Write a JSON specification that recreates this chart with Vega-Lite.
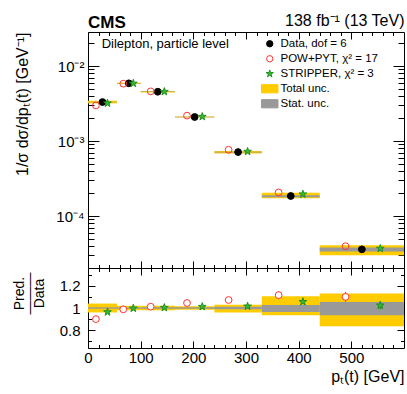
{
  "$schema": "https://vega.github.io/schema/vega-lite/v6.json",
  "background": "white",
  "padding": {"left": 11, "top": 12, "right": 3, "bottom": 0},
  "config": {
    "font": "Liberation Sans",
    "view": {"stroke": "black", "strokeWidth": 1, "fill": "white"},
    "axis": {"domain": false, "grid": false, "tickColor": "black", "tickWidth": 1, "labelColor": "black", "labelFont": "Liberation Sans", "labelFontSize": 15, "labelFlush": false, "labelOverlap": false, "titleFont": "Liberation Sans", "titleFontSize": 16, "titleFontWeight": "normal", "titleColor": "black"},
    "legend": {"labelFont": "Liberation Sans", "labelFontSize": 11.5, "labelColor": "black", "symbolSize": 40, "symbolStrokeWidth": 1, "rowPadding": 2, "labelOffset": 5, "padding": 0}
  },
  "datasets": {
    "bins": [
      {"lo": 0, "hi": 55, "data": 0.00331, "tlo": 0.00318, "thi": 0.00344, "slo": 0.00329, "shi": 0.00333, "rtlo": 0.96, "rthi": 1.04, "rslo": 0.994, "rshi": 1.006},
      {"lo": 55, "hi": 100, "data": 0.00588, "tlo": 0.00576, "thi": 0.0060, "slo": 0.005845, "shi": 0.005915, "rtlo": 0.98, "rthi": 1.02, "rslo": 0.994, "rshi": 1.006},
      {"lo": 100, "hi": 165, "data": 0.00454, "tlo": 0.00445, "thi": 0.00463, "slo": 0.004513, "shi": 0.004567, "rtlo": 0.98, "rthi": 1.02, "rslo": 0.994, "rshi": 1.006},
      {"lo": 165, "hi": 240, "data": 0.00209, "tlo": 0.002057, "thi": 0.002123, "slo": 0.002075, "shi": 0.002105, "rtlo": 0.984, "rthi": 1.016, "rslo": 0.993, "rshi": 1.007},
      {"lo": 240, "hi": 330, "data": 0.000713, "tlo": 0.000684, "thi": 0.000734, "slo": 0.000704, "shi": 0.000722, "rtlo": 0.96, "rthi": 1.03, "rslo": 0.988, "rshi": 1.012},
      {"lo": 330, "hi": 440, "data": 0.000185, "tlo": 0.000173, "thi": 0.000204, "slo": 0.000178, "shi": 0.00019, "rtlo": 0.935, "rthi": 1.105, "rslo": 0.964, "rshi": 1.027},
      {"lo": 440, "hi": 600, "data": 0.000036, "tlo": 0.00003, "thi": 0.0000407, "slo": 0.0000337, "shi": 0.000038, "rtlo": 0.835, "rthi": 1.13, "rslo": 0.935, "rshi": 1.055}
    ],
    "pts": [
      {"series": "Data, dof = 6", "x": 27.5, "y": 0.00331},
      {"series": "Data, dof = 6", "x": 77.5, "y": 0.00588},
      {"series": "Data, dof = 6", "x": 132.5, "y": 0.00454},
      {"series": "Data, dof = 6", "x": 202.5, "y": 0.00209},
      {"series": "Data, dof = 6", "x": 285, "y": 0.000713},
      {"series": "Data, dof = 6", "x": 385, "y": 0.000185},
      {"series": "Data, dof = 6", "x": 520, "y": 0.000036},
      {"series": "POW+PYT, χ² = 17", "x": 15, "y": 0.00298},
      {"series": "POW+PYT, χ² = 17", "x": 67, "y": 0.00581},
      {"series": "POW+PYT, χ² = 17", "x": 119, "y": 0.00459},
      {"series": "POW+PYT, χ² = 17", "x": 188, "y": 0.00218},
      {"series": "POW+PYT, χ² = 17", "x": 267, "y": 0.000764},
      {"series": "POW+PYT, χ² = 17", "x": 362, "y": 0.0002065},
      {"series": "POW+PYT, χ² = 17", "x": 489, "y": 0.0000396},
      {"series": "STRIPPER, χ² = 3", "x": 37, "y": 0.00319},
      {"series": "STRIPPER, χ² = 3", "x": 86, "y": 0.00586},
      {"series": "STRIPPER, χ² = 3", "x": 145, "y": 0.00455},
      {"series": "STRIPPER, χ² = 3", "x": 217, "y": 0.002115},
      {"series": "STRIPPER, χ² = 3", "x": 303, "y": 0.000724},
      {"series": "STRIPPER, χ² = 3", "x": 408, "y": 0.0001954},
      {"series": "STRIPPER, χ² = 3", "x": 555, "y": 0.0000369}
    ],
    "ratios": [
      {"model": "POW", "x": 15, "r": 0.9, "rlo": 0.894, "rhi": 0.906},
      {"model": "POW", "x": 67, "r": 0.988, "rlo": 0.982, "rhi": 0.994},
      {"model": "POW", "x": 119, "r": 1.012, "rlo": 1.006, "rhi": 1.018},
      {"model": "POW", "x": 188, "r": 1.045, "rlo": 1.039, "rhi": 1.051},
      {"model": "POW", "x": 267, "r": 1.072, "rlo": 1.064, "rhi": 1.08},
      {"model": "POW", "x": 362, "r": 1.116, "rlo": 1.08, "rhi": 1.152},
      {"model": "POW", "x": 489, "r": 1.1, "rlo": 1.055, "rhi": 1.145},
      {"model": "STRIPPER", "x": 37, "r": 0.964, "rlo": 0.959, "rhi": 0.969},
      {"model": "STRIPPER", "x": 86, "r": 0.997, "rlo": 0.992, "rhi": 1.002},
      {"model": "STRIPPER", "x": 145, "r": 1.003, "rlo": 0.998, "rhi": 1.008},
      {"model": "STRIPPER", "x": 217, "r": 1.012, "rlo": 1.007, "rhi": 1.017},
      {"model": "STRIPPER", "x": 303, "r": 1.015, "rlo": 1.007, "rhi": 1.023},
      {"model": "STRIPPER", "x": 408, "r": 1.056, "rlo": 1.036, "rhi": 1.076},
      {"model": "STRIPPER", "x": 555, "r": 1.024, "rlo": 0.986, "rhi": 1.062}
    ],
    "notes": [
      {"label": "Dilepton, particle level", "x": 26, "y": 0.0196}
    ]
  },
  "vconcat": [
    {
      "width": 316,
      "height": 236,
      "title": {"text": "CMS", "anchor": "start", "frame": "group", "font": "Liberation Sans", "fontSize": 17, "fontWeight": "bold", "color": "black", "offset": -19},
      "layer": [
        {
          "data": {"name": "bins"},
          "mark": {"type": "rect", "color": "#ffcc00"},
          "encoding": {
            "x": {"field": "lo", "type": "quantitative", "scale": {"domain": [0, 600], "nice": false, "zero": false},
                  "axis": {"orient": "bottom", "values": [0,20,40,60,80,100,120,140,160,180,200,220,240,260,280,300,320,340,360,380,400,420,440,460,480,500,520,540,560,580], "labels": false, "title": null,
                           "tickSize": {"condition": {"test": "datum.value % 100 == 0", "value": -7}, "value": -3.5}}},
            "x2": {"field": "hi"},
            "y": {"field": "tlo", "type": "quantitative", "scale": {"type": "log", "domain": [0.0000203, 0.0284], "nice": false, "zero": false},
                  "axis": {"orient": "left", "values": [0.00003,0.00004,0.00005,0.00006,0.00007,0.00008,0.00009,0.0001,0.0002,0.0003,0.0004,0.0005,0.0006,0.0007,0.0008,0.0009,0.001,0.002,0.003,0.004,0.005,0.006,0.007,0.008,0.009,0.01,0.02],
                           "labelExpr": "datum.value == 0.01 ? '10⁻²' : datum.value == 0.001 ? '10⁻³' : datum.value == 0.0001 ? '10⁻⁴' : ''",
                           "tickSize": {"condition": {"test": "datum.value == 0.01 || datum.value == 0.001 || datum.value == 0.0001", "value": -11}, "value": -6},
                           "labelPadding": 15,
                           "title": "1/σ dσ/dpₜ(t) [GeV⁻¹]", "titleAnchor": "end", "titlePadding": 25}},
            "y2": {"field": "thi"}
          }
        },
        {
          "data": {"name": "bins"},
          "mark": {"type": "rect", "color": "#999999"},
          "encoding": {
            "x": {"field": "lo", "type": "quantitative",
                  "axis": {"orient": "top", "values": [0,20,40,60,80,100,120,140,160,180,200,220,240,260,280,300,320,340,360,380,400,420,440,460,480,500,520,540,560,580], "labels": false,
                           "tickSize": {"condition": {"test": "datum.value % 100 == 0", "value": -7}, "value": -3.5},
                           "title": "138 fb⁻¹ (13 TeV)", "titleAnchor": "end", "titlePadding": 3}},
            "x2": {"field": "hi"},
            "y": {"field": "slo", "type": "quantitative",
                  "axis": {"orient": "right", "values": [0.00003,0.00004,0.00005,0.00006,0.00007,0.00008,0.00009,0.0001,0.0002,0.0003,0.0004,0.0005,0.0006,0.0007,0.0008,0.0009,0.001,0.002,0.003,0.004,0.005,0.006,0.007,0.008,0.009,0.01,0.02],
                           "labels": false, "title": null,
                           "tickSize": {"condition": {"test": "datum.value == 0.01 || datum.value == 0.001 || datum.value == 0.0001", "value": -11}, "value": -6}}},
            "y2": {"field": "shi"}
          }
        },
        {
          "data": {"name": "notes"},
          "mark": {"type": "text", "align": "left", "baseline": "middle", "font": "Liberation Sans", "fontSize": 13, "color": "black"},
          "encoding": {
            "text": {"field": "label", "type": "nominal"},
            "x": {"field": "x", "type": "quantitative", "axis": null},
            "y": {"field": "y", "type": "quantitative", "axis": null}
          }
        },
        {
          "data": {"name": "pts"},
          "mark": {"type": "point", "size": 46, "strokeWidth": 1, "opacity": 1},
          "encoding": {
            "x": {"field": "x", "type": "quantitative", "axis": null},
            "y": {"field": "y", "type": "quantitative", "axis": null},
            "shape": {"field": "series", "type": "nominal",
                      "scale": {"domain": ["Data, dof = 6", "POW+PYT, χ² = 17", "STRIPPER, χ² = 3", "Total unc.", "Stat. unc."],
                                "range": ["circle", "circle", "M0,-1.2L0.272,-0.374L1.141,-0.371L0.44,0.143L0.705,0.971L0,0.462L-0.705,0.971L-0.44,0.143L-1.141,-0.371L-0.272,-0.374Z", "M-2.6,-1.3H2.6V1.3H-2.6Z", "M-2.6,-1.3H2.6V1.3H-2.6Z"]},
                      "legend": {"title": null, "orient": "none", "legendX": 176, "legendY": 6}},
            "fill": {"field": "series", "type": "nominal",
                     "scale": {"domain": ["Data, dof = 6", "POW+PYT, χ² = 17", "STRIPPER, χ² = 3", "Total unc.", "Stat. unc."],
                               "range": ["black", "transparent", "#33bb33", "#ffcc00", "#999999"]},
                     "legend": {"title": null, "orient": "none", "legendX": 176, "legendY": 6}},
            "stroke": {"field": "series", "type": "nominal",
                       "scale": {"domain": ["Data, dof = 6", "POW+PYT, χ² = 17", "STRIPPER, χ² = 3", "Total unc.", "Stat. unc."],
                                 "range": ["black", "#ff3333", "#1f8f1f", "#ffcc00", "#999999"]},
                       "legend": {"title": null, "orient": "none", "legendX": 176, "legendY": 6}}
          }
        }
      ]
    },
    {
      "width": 316,
      "height": 80,
      "layer": [
        {
          "data": {"name": "bins"},
          "mark": {"type": "rect", "color": "#ffcc00"},
          "encoding": {
            "x": {"field": "lo", "type": "quantitative", "scale": {"domain": [0, 600], "nice": false, "zero": false},
                  "axis": {"orient": "bottom", "values": [0,20,40,60,80,100,120,140,160,180,200,220,240,260,280,300,320,340,360,380,400,420,440,460,480,500,520,540,560,580],
                           "labelExpr": "datum.value % 100 == 0 ? datum.label : ''",
                           "tickSize": {"condition": {"test": "datum.value % 100 == 0", "value": -7}, "value": -3.5},
                           "labelPadding": 9,
                           "title": "pₜ(t) [GeV]", "titleAnchor": "end", "titlePadding": 0}},
            "x2": {"field": "hi"},
            "y": {"field": "rtlo", "type": "quantitative", "scale": {"domain": [0.64, 1.36], "nice": false, "zero": false},
                  "axis": {"orient": "left", "values": [0.7, 0.8, 0.9, 1, 1.1, 1.2, 1.3],
                           "labelExpr": "datum.value == 0.8 ? '0.8' : datum.value == 1 ? '1' : datum.value == 1.2 ? '1.2' : ''",
                           "tickSize": {"condition": {"test": "datum.value == 0.8 || datum.value == 1 || datum.value == 1.2", "value": -7}, "value": -3.5},
                           "labelPadding": 15,
                           "title": ["Pred.", "———", "Data"], "titleFontSize": 14, "titleLineHeight": 10,
                           "titleAlign": "center", "titleBaseline": "bottom", "titleX": -62, "titleY": 25, "titleAngle": -90}},
            "y2": {"field": "rthi"}
          }
        },
        {
          "data": {"name": "bins"},
          "mark": {"type": "rect", "color": "#999999"},
          "encoding": {
            "x": {"field": "lo", "type": "quantitative",
                  "axis": {"orient": "top", "values": [0,20,40,60,80,100,120,140,160,180,200,220,240,260,280,300,320,340,360,380,400,420,440,460,480,500,520,540,560,580], "labels": false, "title": null,
                           "tickSize": {"condition": {"test": "datum.value % 100 == 0", "value": -7}, "value": -3.5}}},
            "x2": {"field": "hi"},
            "y": {"field": "rslo", "type": "quantitative",
                  "axis": {"orient": "right", "values": [0.7, 0.8, 0.9, 1, 1.1, 1.2, 1.3], "labels": false, "title": null,
                           "tickSize": {"condition": {"test": "datum.value == 0.8 || datum.value == 1 || datum.value == 1.2", "value": -7}, "value": -3.5}}},
            "y2": {"field": "rshi"}
          }
        },
        {
          "mark": {"type": "rule", "color": "black", "strokeWidth": 1},
          "encoding": {"y": {"datum": 1, "type": "quantitative", "axis": null}}
        },
        {
          "data": {"name": "ratios"},
          "transform": [{"filter": "datum.model == 'POW'"}],
          "layer": [
            {"mark": {"type": "rule", "color": "#ff3333", "strokeWidth": 1},
             "encoding": {"x": {"field": "x", "type": "quantitative", "axis": null}, "y": {"field": "rlo", "type": "quantitative", "axis": null}, "y2": {"field": "rhi"}}},
            {"mark": {"type": "point", "shape": "circle", "size": 46, "strokeWidth": 1, "color": "#ff3333", "fill": "white", "fillOpacity": 1, "filled": false, "opacity": 1},
             "encoding": {"x": {"field": "x", "type": "quantitative", "axis": null}, "y": {"field": "r", "type": "quantitative", "axis": null}}}
          ]
        },
        {
          "data": {"name": "ratios"},
          "transform": [{"filter": "datum.model == 'STRIPPER'"}],
          "layer": [
            {"mark": {"type": "rule", "color": "#1f8f1f", "strokeWidth": 1},
             "encoding": {"x": {"field": "x", "type": "quantitative", "axis": null}, "y": {"field": "rlo", "type": "quantitative", "axis": null}, "y2": {"field": "rhi"}}},
            {"mark": {"type": "point", "shape": "M0,-1.2L0.272,-0.374L1.141,-0.371L0.44,0.143L0.705,0.971L0,0.462L-0.705,0.971L-0.44,0.143L-1.141,-0.371L-0.272,-0.374Z", "size": 46, "strokeWidth": 1, "stroke": "#1f8f1f", "fill": "#33bb33", "opacity": 1, "fillOpacity": 1},
             "encoding": {"x": {"field": "x", "type": "quantitative", "axis": null}, "y": {"field": "r", "type": "quantitative", "axis": null}}}
          ]
        }
      ]
    }
  ],
  "spacing": 0,
  "bounds": "flush"
}
